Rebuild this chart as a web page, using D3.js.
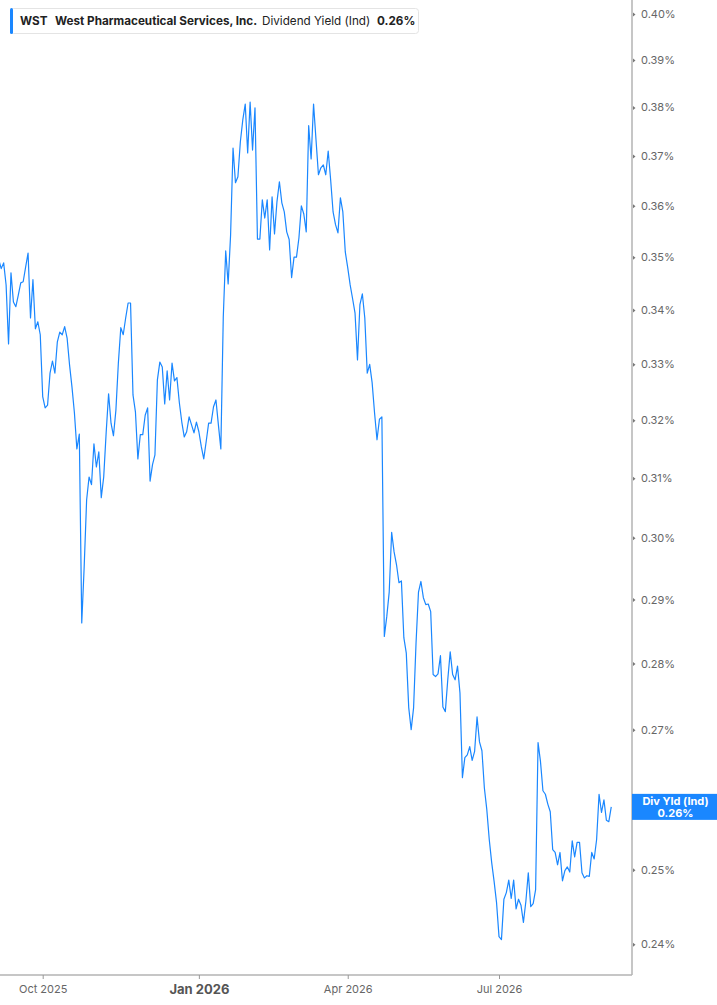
<!DOCTYPE html>
<html>
<head>
<meta charset="utf-8">
<script src="https://cdn.jsdelivr.net/npm/d3@7"></script>
<style>
  html, body { margin: 0; padding: 0; background: #fff; }
  svg { display: block; font-family: Inter, "Noto Sans", sans-serif; }
</style>
</head>
<body>
<div id="chart"></div>
<script>
const ticker = "WST";
const company = "West Pharmaceutical Services, Inc.";
const metric = "Dividend Yield (Ind)";
const badgeLabel = "Div Yld (Ind)";

// market holidays skipped when laying out trading days
const holidays = ["2025-11-27", "2025-12-25", "2026-01-01", "2026-01-19", "2026-02-16",
    "2026-04-03", "2026-05-25", "2026-06-19", "2026-07-03"];
const firstDay = "2025-09-05";

// daily dividend yield, in percent
const values = [
    0.3495, 0.3478, 0.3489, 0.3447, 0.3337, 0.3470, 0.3415, 0.3406, 0.3428, 0.3451,
    0.3453, 0.3481, 0.3508, 0.3385, 0.3457, 0.3365, 0.3378, 0.3354, 0.3242, 0.3222,
    0.3227, 0.3284, 0.3306, 0.3284, 0.3341, 0.3359, 0.3354, 0.3369, 0.3348, 0.3299,
    0.3259, 0.3213, 0.3150, 0.3176, 0.2863, 0.2953, 0.3063, 0.3102, 0.3089, 0.3159,
    0.3119, 0.3145, 0.3067, 0.3102, 0.3178, 0.3247, 0.3195, 0.3173, 0.3218, 0.3302,
    0.3367, 0.3354, 0.3385, 0.3413, 0.3413, 0.3245, 0.3215, 0.3133, 0.3175, 0.3175,
    0.3209, 0.3222, 0.3095, 0.3123, 0.3140, 0.3272, 0.3304, 0.3295, 0.3229, 0.3288,
    0.3236, 0.3302, 0.3270, 0.3276, 0.3231, 0.3197, 0.3171, 0.3180, 0.3206, 0.3192,
    0.3178, 0.3197, 0.3180, 0.3154, 0.3133, 0.3163, 0.3195, 0.3195, 0.3224, 0.3236,
    0.3192, 0.3150, 0.3387, 0.3512, 0.3449, 0.3543, 0.3716, 0.3646, 0.3658, 0.3729,
    0.3774, 0.3807, 0.3706, 0.3811, 0.3712, 0.3799, 0.3535, 0.3535, 0.3612, 0.3576,
    0.3612, 0.3514, 0.3618, 0.3545, 0.3608, 0.3648, 0.3606, 0.3588, 0.3549, 0.3534,
    0.3461, 0.3500, 0.3500, 0.3537, 0.3600, 0.3584, 0.3549, 0.3762, 0.3694, 0.3807,
    0.3733, 0.3662, 0.3676, 0.3682, 0.3662, 0.3710, 0.3652, 0.3588, 0.3563, 0.3547,
    0.3616, 0.3588, 0.3510, 0.3480, 0.3447, 0.3421, 0.3394, 0.3308, 0.3410, 0.3430,
    0.3385, 0.3284, 0.3300, 0.3267, 0.3213, 0.3166, 0.3202, 0.3206, 0.2842, 0.2873,
    0.2912, 0.3009, 0.2977, 0.2956, 0.2927, 0.2930, 0.2840, 0.2816, 0.2733, 0.2700,
    0.2733, 0.2832, 0.2912, 0.2929, 0.2903, 0.2892, 0.2893, 0.2881, 0.2783, 0.2780,
    0.2784, 0.2812, 0.2734, 0.2727, 0.2775, 0.2818, 0.2783, 0.2775, 0.2796, 0.2755,
    0.2630, 0.2659, 0.2663, 0.2675, 0.2655, 0.2668, 0.2719, 0.2682, 0.2669, 0.2615,
    0.2584, 0.2542, 0.2510, 0.2484, 0.2455, 0.2410, 0.2406, 0.2460, 0.2469, 0.2486,
    0.2461, 0.2486, 0.2447, 0.2460, 0.2452, 0.2429, 0.2457, 0.2496, 0.2450, 0.2454,
    0.2473, 0.2681, 0.2653, 0.2611, 0.2606, 0.2592, 0.2581, 0.2528, 0.2524, 0.2507,
    0.2524, 0.2485, 0.2499, 0.2504, 0.2497, 0.2540, 0.2518, 0.2538, 0.2538, 0.2496,
    0.2489, 0.2492, 0.2491, 0.2524, 0.2515, 0.2542, 0.2606, 0.2580, 0.2598, 0.2569,
    0.2567, 0.2588
];

const yTicks = [0.24, 0.25, 0.26, 0.27, 0.28, 0.29, 0.30, 0.31, 0.32, 0.33, 0.34, 0.35, 0.36, 0.37, 0.38, 0.39, 0.40];
const xTickMonths = ["2025-10", "2026-01", "2026-04", "2026-07"];

const width = 717, height = 1005;
const plotRight = 632, plotBottom = 975;
const blue = "#1a87ff";

// build trading-day dates
const parse = d3.timeParse("%Y-%m-%d");
const fmtDay = d3.timeFormat("%Y-%m-%d");
const dates = [];
let day = parse(firstDay);
while (dates.length < values.length) {
    const wd = day.getDay();
    if (wd !== 0 && wd !== 6 && !holidays.includes(fmtDay(day))) dates.push(day);
    day = d3.timeDay.offset(day, 1);
}
const data = values.map((v, i) => ({ i: i, date: dates[i], value: v }));

// first trading day of each labelled month
const tickIdx = xTickMonths.map(m => data.find(d => d3.timeFormat("%Y-%m")(d.date) === m).i);

const x = d3.scaleLinear()
    .domain([0.5, 259.5])
    .range([0, plotRight]);

const y = d3.scaleLog()
    .domain([0.24, 0.40])
    .range([944.2, 14]);

const svg = d3.select("#chart").append("svg")
    .attr("width", width)
    .attr("height", height);

svg.append("defs").append("clipPath")
    .attr("id", "plot-clip")
    .append("rect")
    .attr("x", 0).attr("y", 0)
    .attr("width", plotRight).attr("height", plotBottom);

const line = d3.line()
    .x(d => x(d.i))
    .y(d => y(d.value));

svg.append("path")
    .datum(data)
    .attr("clip-path", "url(#plot-clip)")
    .attr("fill", "none")
    .attr("stroke", blue)
    .attr("stroke-width", 1.2)
    .attr("stroke-linejoin", "round")
    .attr("d", line);

// x axis
const xAxis = svg.append("g")
    .attr("transform", `translate(0,${plotBottom})`)
    .call(d3.axisBottom(x)
        .tickValues(tickIdx)
        .tickSize(4)
        .tickSizeOuter(0)
        .tickPadding(6)
        .tickFormat(i => d3.timeFormat("%b %Y")(data[i].date)));

xAxis.select(".domain")
    .attr("d", `M0,0H${plotRight}`)
    .attr("stroke", "#b3b3b3")
    .attr("stroke-width", 1.5);
xAxis.selectAll(".tick line").attr("stroke", "#999");
xAxis.selectAll(".tick text")
    .attr("fill", "#666")
    .attr("font-size", 11)
    .attr("font-family", "Inter, sans-serif")
    .filter(i => data[i].date.getMonth() === 0)
    .attr("fill", "#555")
    .attr("font-size", 13)
    .attr("font-weight", 700);

// last value, shown in a badge on the right axis
const last = data[data.length - 1];
const lastY = y(last.value);

// y axis on the right
const yAxis = svg.append("g")
    .attr("transform", `translate(${plotRight},0)`)
    .call(d3.axisRight(y)
        .tickValues(yTicks)
        .tickSize(0)
        .tickPadding(9)
        .tickFormat(d => d3.format(".2f")(d) + "%"));

yAxis.select(".domain")
    .attr("d", `M0,0V${plotBottom}`)
    .attr("stroke", "#b3b3b3")
    .attr("stroke-width", 1.5);
yAxis.selectAll(".tick text")
    .attr("fill", "#666")
    .attr("font-size", 11)
    .attr("font-family", "Inter, sans-serif");
// the badge sits over the tick label it covers
yAxis.selectAll(".tick")
    .filter(d => Math.abs(y(d) - lastY) < 20)
    .select("text").remove();
yAxis.selectAll(".tick").append("path")
    .attr("d", "M1,-2L3.5,0L1,2Z")
    .attr("fill", "#777");

const badge = svg.append("g")
    .attr("transform", `translate(${plotRight},${lastY})`);
badge.append("rect")
    .attr("x", 0).attr("y", -13)
    .attr("width", width - plotRight).attr("height", 26)
    .attr("fill", blue);
badge.append("text")
    .attr("x", (width - plotRight) / 2 + 1).attr("y", -2)
    .attr("text-anchor", "middle")
    .attr("fill", "#fff")
    .attr("font-size", 11)
    .attr("font-weight", 700)
    .text(badgeLabel);
badge.append("text")
    .attr("x", (width - plotRight) / 2 + 1).attr("y", 10)
    .attr("text-anchor", "middle")
    .attr("fill", "#fff")
    .attr("font-size", 11)
    .attr("font-weight", 700)
    .text(d3.format(".2f")(last.value) + "%");

// header legend
const head = svg.append("g");
head.append("rect")
    .attr("x", 10.5).attr("y", 8.5)
    .attr("width", 408).attr("height", 25)
    .attr("rx", 3)
    .attr("fill", "#fff")
    .attr("stroke", "#e4e4e4");
head.append("rect")
    .attr("x", 10).attr("y", 8)
    .attr("width", 3).attr("height", 26)
    .attr("rx", 1.5)
    .attr("fill", blue);
const headText = head.append("text")
    .attr("y", 25)
    .attr("font-size", 11.7)
    .attr("fill", "#222");
headText.append("tspan").attr("x", 20).attr("font-weight", 700).text(ticker);
headText.append("tspan").attr("x", 55).attr("font-weight", 700).text(company);
headText.append("tspan").attr("x", 262).attr("font-weight", 400).text(metric);
headText.append("tspan").attr("x", 377).attr("font-weight", 700).text(d3.format(".2f")(last.value) + "%");
</script>
</body>
</html>
